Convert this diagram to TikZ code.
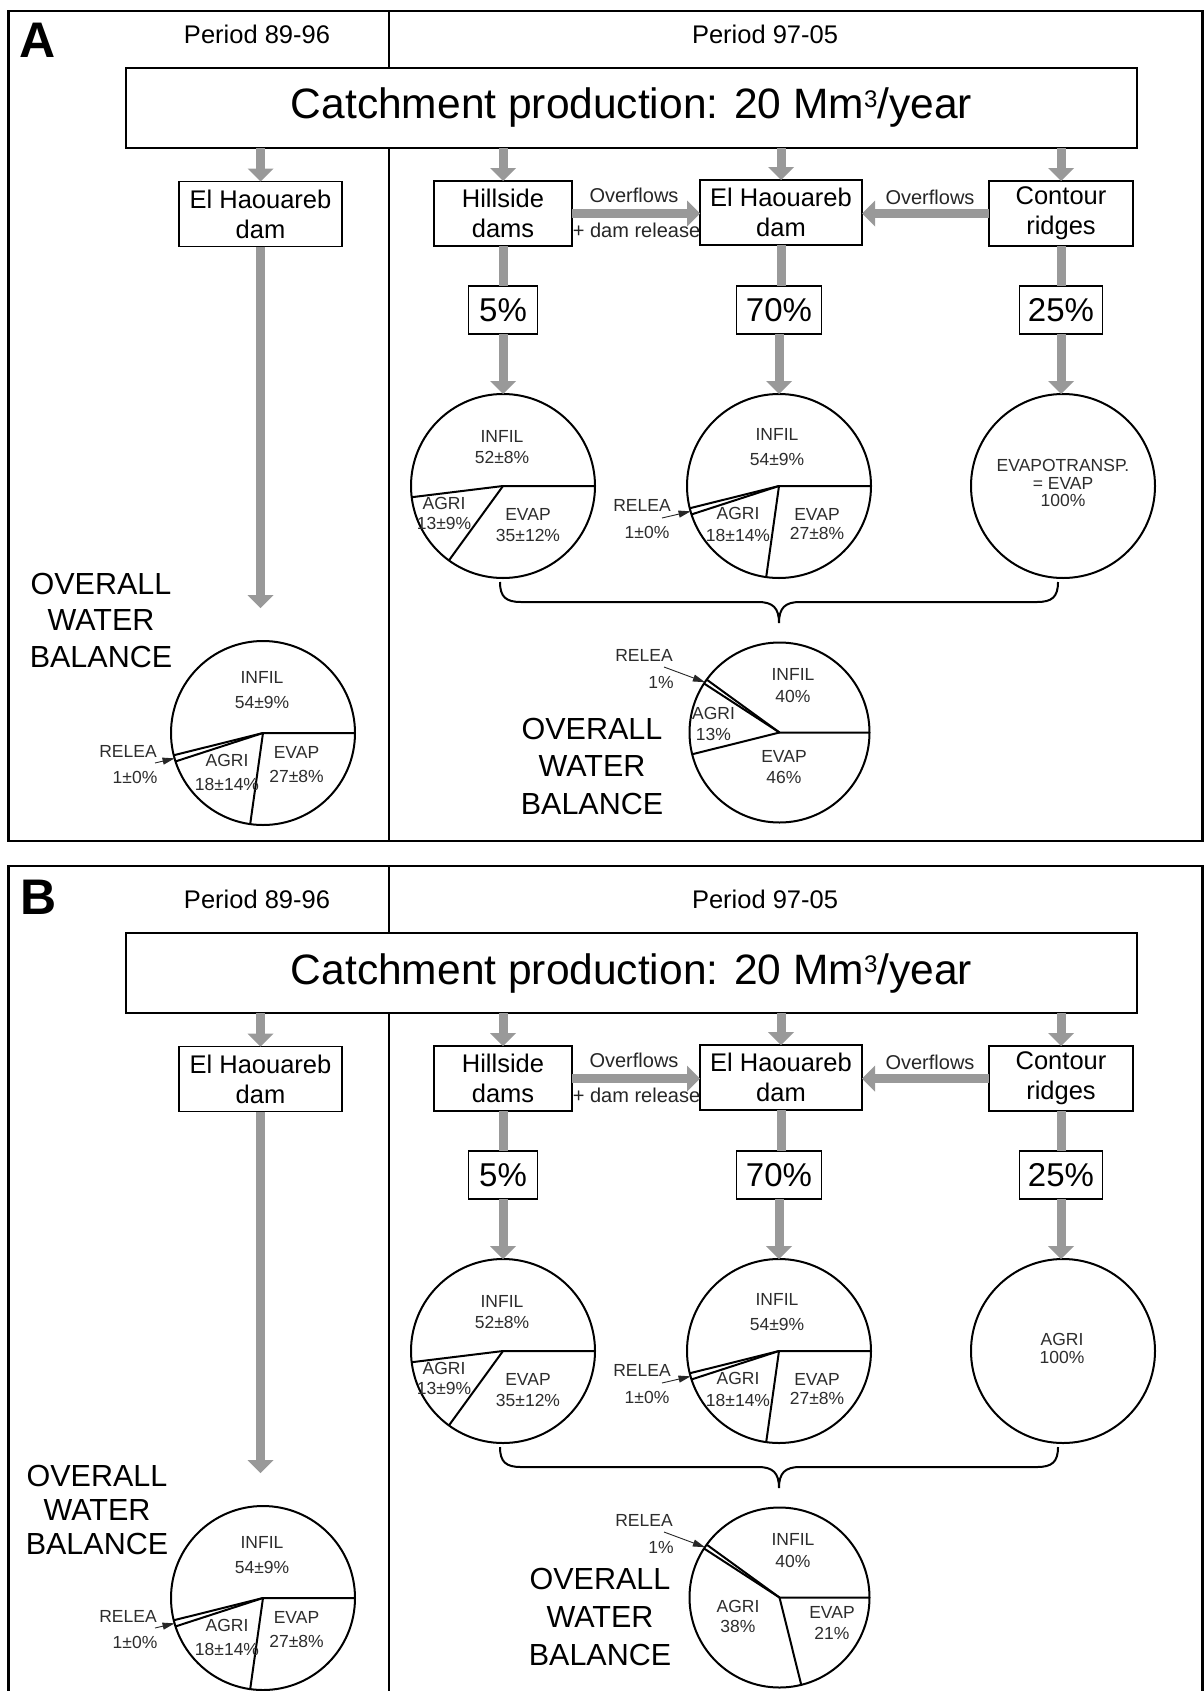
\documentclass[tikz,border=0pt]{standalone}
\usepackage{fontspec}
\setmainfont{Liberation Sans}
\usetikzlibrary{arrows.meta}
\definecolor{flowgray}{RGB}{153,153,153}
\definecolor{txtgray}{RGB}{45,45,45}
\newcommand{\fsz}[2]{\fontsize{#1}{#2}\selectfont}

\newcommand{\sharedpanel}{%
  \node[plain] (per1) at (257,34) {Period 89-96};
  \node[plain] (per2) at (765,34) {Period 97-05};
  \node[bigbox] (cat) at (631.5,108) {Catchment production: 20 Mm\raisebox{11.5pt}{\fsz{24}{24}3}/year};
  \node[box, minimum width=163pt] (ehl) at (260.5,214) {El Haouareb\\dam};
  \node[box, minimum width=138pt] (hs) at (503,213.5) {Hillside\\dams};
  \node[box, minimum width=162pt] (ehm) at (781,212.5) {El Haouareb\\dam};
  \node[box, minimum width=144pt] (cr) at (1061,213.5) {Contour\\ridges};
  \draw[flow] (ehl.north |- cat.south) -- (ehl.north);
  \draw[flow] (hs.north |- cat.south) -- (hs.north);
  \draw[flow] (ehm.north |- cat.south) -- (ehm.north);
  \draw[flow] (cr.north |- cat.south) -- (cr.north);
  \draw[flow] (hs.east) -- (hs.east -| ehm.west);
  \draw[flow] (cr.west) -- (cr.west -| ehm.east);
  \node[flowlabel] (ov1) at (634,195) {Overflows};
  \node[flowlabel] (rel) at (636.5,230) {+ dam release};
  \node[flowlabel] (ov2) at (930,197) {Overflows};
  \node[pctbox, minimum width=69pt] (pc1) at (503,310) {5\%};
  \node[pctbox, minimum width=85pt] (pc2) at (779,310) {70\%};
  \node[pctbox, minimum width=83pt] (pc3) at (1061,310) {25\%};
  \node[pie] (pa) at (503,486) {};
  \node[pie] (pb) at (779,486) {};
  \node[pie] (pc) at (1063,486) {};
  \draw[flowline] (hs.south) -- (pc1.north);
  \draw[flowline] (ehm.south) -- (ehm.south |- pc2.north);
  \draw[flowline] (cr.south) -- (pc3.north);
  \draw[flow] (pc1.south) -- (pa.north);
  \draw[flow] (pc2.south) -- (pb.north);
  \draw[flow] (pc3.south) -- (pc3.south |- pc.north);
  % hillside pie
  \draw[wedge] (pa.0) -- (pa.center) -- (pa.187.2);
  \draw[wedge] (pa.center) -- (pa.234);
  \node[pielabel] (pa1) at (502,447) {INFIL\\52±8\%};
  \node[pielabel] (pa2) at (444,513.5) {AGRI\\13±9\%};
  \node[pielabel] (pa3) at (528,525) {EVAP\\35±12\%};
  % El Haouareb pie
  \draw[wedge] (pb.0) -- (pb.center) -- (pb.194.4);
  \draw[wedge] (pb.center) -- (pb.198);
  \draw[wedge] (pb.center) -- (pb.262.8);
  \node[pielabel, font=\fsz{17.5}{25}] (pb1) at (777,447.5) {INFIL\\54±9\%};
  \node[pielabel, font=\fsz{17.5}{22}] (pb2) at (738,524) {AGRI\\18±14\%};
  \node[pielabel, font=\fsz{17.5}{19}] (pb3) at (817,524) {EVAP\\27±8\%};
  \node[pielabel] (pb4) at (642,505) {RELEA};
  \node[pielabel] (pb5) at (647,532) {1±0\%};
  \coordinate (pbs) at (662,518);
  \draw[relarrow] (pbs) -- (pb.196);
  % left overall
  \coordinate (ltip) at (260.5,608);
  \draw[flow] (ehl.south) -- (ltip);
  \node[pie] (pl) at (263,733) {};
  \draw[wedge] (pl.0) -- (pl.center) -- (pl.194.4);
  \draw[wedge] (pl.center) -- (pl.198);
  \draw[wedge] (pl.center) -- (pl.262.8);
  \node[pielabel, font=\fsz{17.5}{25}] (pl1) at (262,690.5) {INFIL\\54±9\%};
  \node[pielabel, font=\fsz{17.5}{24}] (pl2) at (227,772.5) {AGRI\\18±14\%};
  \node[pielabel, font=\fsz{17.5}{24}] (pl3) at (296.5,765) {EVAP\\27±8\%};
  \node[pielabel] (pl4) at (128,751) {RELEA};
  \node[pielabel] (pl5) at (135,777) {1±0\%};
  \coordinate (pls) at (155,763);
  \draw[relarrow] (pls) -- (pl.196);
  % brace
  \draw[brace] (500,582) .. controls (500,597) and (506,602) .. (521,602) -- (758,602)
     .. controls (773,602) and (779,608) .. (779,623)
     .. controls (779,608) and (785,602) .. (800,602) -- (1037,602)
     .. controls (1052,602) and (1058,597) .. (1058,582);
  % right overall
  \node[pie, minimum size=180pt] (pr) at (779.5,732.5) {};
  \draw[wedge] (pr.0) -- (pr.center) -- (pr.144);
  \draw[wedge] (pr.center) -- (pr.147.6);
  \node[pielabel, font=\fsz{17.5}{22}] (pr1) at (793,686) {INFIL\\40\%};
  \node[pielabel] (pr4) at (644,655) {RELEA};
  \node[pielabel] (pr5) at (661,682) {1\%};
  \coordinate (prs) at (664,667);
  \draw[relarrow] (prs) -- (pr.146);
}

\begin{document}
\begin{tikzpicture}[x=1pt,y=-1pt,
  every node/.style={inner sep=0pt, outer sep=0pt},
  frame/.style={draw=black, line width=2.5pt},
  divider/.style={draw=black, line width=1.5pt},
  plain/.style={font=\fsz{25.5}{30}},
  letter/.style={font=\bfseries\fsz{50}{50}},
  box/.style={draw=black, line width=1.5pt, fill=white, align=center, minimum height=65pt, font=\fsz{25.5}{30}},
  bigbox/.style={draw=black, line width=1.5pt, fill=white, minimum width=1011pt, minimum height=80pt, font=\fsz{42.5}{48}},
  pctbox/.style={draw=black, line width=1.5pt, fill=white, minimum height=48pt, font=\fsz{33}{36}},
  flow/.style={draw=flowgray, line width=9pt, -{Triangle[width=26pt,length=13pt,line width=0pt]}},
  flowline/.style={draw=flowgray, line width=9pt},
  flowlabel/.style={text=black!85, font=\fsz{20}{24}},
  pie/.style={circle, draw=black, line width=2pt, fill=white, minimum size=184pt},
  wedge/.style={draw=black, line width=2pt, line join=round},
  pielabel/.style={text=txtgray, align=center, font=\fsz{17.5}{20.5}},
  relarrow/.style={draw=black!85, line width=0.9pt, -{Triangle[width=7pt,length=12pt]}},
  brace/.style={draw=black, line width=2pt},
  overall/.style={align=center, font=\fsz{30.5}{36.5}}
]
\useasboundingbox (0,0) rectangle (1204,1691);
\fill[white] (0,0) rectangle (1204,1691);

% ---------------- Panel A ----------------
\begin{scope}[name prefix=A-]
  \draw[frame] (8.5,11) rectangle (1202.5,841);
  \draw[divider] (389,11) -- (389,68);
  \draw[divider] (389,148) -- (389,841);
  \node[letter] (lbl) at (38,40) {A};
  \sharedpanel
  \node[pielabel, font=\fsz{17.5}{17.5}] (cl) at (1063,483) {EVAPOTRANSP.\\= EVAP\\100\%};
  \draw[wedge] (pr.center) -- (pr.194.4);
  \node[pielabel] (pr2) at (713.5,724) {AGRI\\13\%};
  \node[pielabel, font=\fsz{17.5}{21}] (pr3) at (784,767.5) {EVAP\\46\%};
  \node[overall] (owl) at (101,620) {OVERALL\\WATER\\BALANCE};
  \node[overall, font=\fsz{30.5}{37.5}] (owr) at (592,766) {OVERALL\\WATER\\BALANCE};
\end{scope}

% ---------------- Panel B ----------------
\begin{scope}[name prefix=B-, yshift=-865pt]
  \draw[frame] (8.5,1) rectangle (1202.5,900);
  \draw[divider] (389,1) -- (389,68);
  \draw[divider] (389,148) -- (389,900);
  \node[letter] (lbl) at (38.5,32) {B};
  \sharedpanel
  \node[pielabel, font=\fsz{17.5}{17.5}] (cl) at (1062,483.5) {AGRI\\100\%};
  \draw[wedge] (pr.center) -- (pr.284.4);
  \node[pielabel] (pr2) at (738,751.5) {AGRI\\38\%};
  \node[pielabel] (pr3) at (832,758) {EVAP\\21\%};
  \node[overall, font=\fsz{30.5}{34}] (owl) at (97,645) {OVERALL\\WATER\\BALANCE};
  \node[overall, font=\fsz{30.5}{38}] (owr) at (600,752) {OVERALL\\WATER\\BALANCE};
\end{scope}
\end{tikzpicture}
\end{document}
